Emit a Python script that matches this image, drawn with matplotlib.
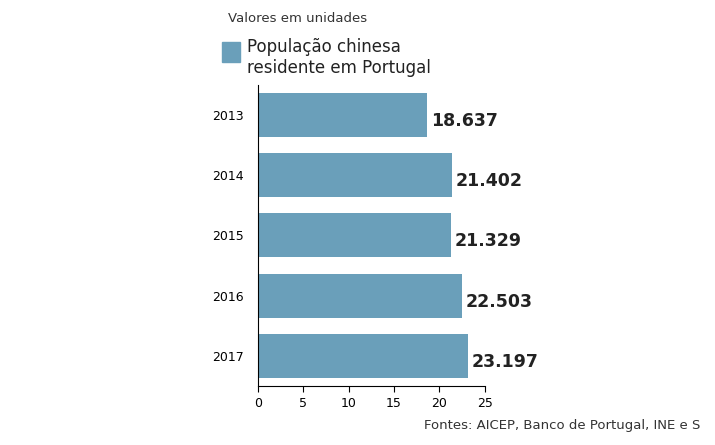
import matplotlib
matplotlib.use("Agg")
import matplotlib.pyplot as plt
from matplotlib.patches import Rectangle

years = ["2013", "2014", "2015", "2016", "2017"]
values = [18.637, 21.402, 21.329, 22.503, 23.197]
value_labels = ["18.637", "21.402", "21.329", "22.503", "23.197"]
xticks = [0, 5, 10, 15, 20, 25]

fig = plt.figure(figsize=(7.15, 4.45), dpi=100)
fig.patch.set_facecolor("white")
ax = fig.add_axes([0.361, 0.133, 0.317, 0.676])
pos = range(len(years))
ax.barh(pos, values, height=0.73, color="#6a9fba")
ax.set_ylim(4.5, -0.5)
ax.set_xlim(0, 25)
ax.set_yticks(list(pos))
ax.set_yticklabels(years, fontsize=9)
ax.set_xticks(xticks)
ax.set_xticklabels([str(t) for t in xticks], fontsize=9)
for s in ["top", "right"]:
    ax.spines[s].set_visible(False)
ax.tick_params(axis="y", length=0, pad=10)
ax.tick_params(axis="x", length=4, pad=4)
for i, (v, lab) in enumerate(zip(values, value_labels)):
    ax.text(v + 0.4, i + 0.1, lab, va="center", ha="left", fontsize=12.5, fontweight="bold", color="#222222")

fig.text(228/715, 1-18/445, "Valores em unidades", fontsize=9.5, va="center", ha="left", color="#333333")
fig.patches.append(Rectangle((222/715, 1-62/445), 18/715, 20/445, transform=fig.transFigure, color="#6a9fba"))
fig.text(247/715, 1-47/445, "População chinesa", fontsize=12, va="center", ha="left", color="#222222")
fig.text(247/715, 1-68/445, "residente em Portugal", fontsize=12, va="center", ha="left", color="#222222")
fig.text(424/715, 1-425/445, "Fontes: AICEP, Banco de Portugal, INE e S", fontsize=9.5, va="center", ha="left", color="#333333")
fig.savefig("out.png", dpi=100)
